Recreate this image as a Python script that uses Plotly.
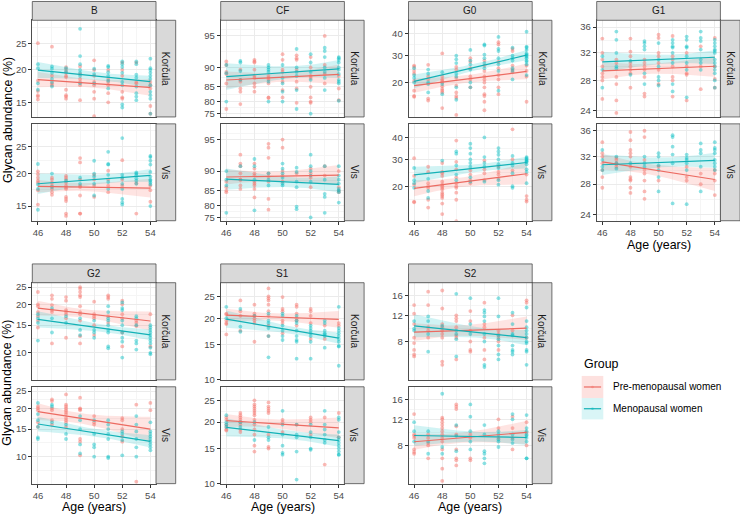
import numpy as np
import plotly.graph_objects as go

# ---------------- data ----------------
AGES = [46, 47, 48, 49, 50, 51, 52, 53, 54]
GLYCANS = ["B", "CF", "G0", "G1", "G2", "S1", "S2"]
ISLANDS = ["Korčula", "Vis"]
GROUPS = ["Pre-menopausal women", "Menopausal women"]
X_TICKS = [46, 48, 50, 52, 54]
Y_TICKS = {"B": [15, 20, 25], "CF": [75, 80, 85, 90, 95], "G0": [20, 30, 40],
           "G1": [24, 28, 32, 36], "G2": [10, 15, 20, 25], "S1": [10, 15, 20, 25],
           "S2": [8, 12, 16]}
Y_LIMITS = {"B": [13.1, 29.9], "CF": [73.5, 96.5], "G0": [11.1, 46.7], "G1": [23.2, 37.1],
            "G2": [6.6, 26.4], "S1": [10.0, 28.5], "S2": [4.3, 19.3]}

# values (%) per age 46..54
B_KOR_PRE = [[25, 18.2, 16.6, 15.8, 15.4, 16.0], [24.3, 19, 17.8, 17.5], [20.5, 20, 19.5, 19, 18.8, 16.8, 16, 15.8, 15.5],
             [20.6, 19.3, 18.5, 18, 17.5, 15.3], [21.7, 20, 19, 18, 17.5, 16.5, 15.5, 13.2], [20, 18.5, 18, 17.5, 16.3, 15],
             [21.3, 20, 19, 16.5, 15.7, 15.5], [21.3, 18, 17.8], [18, 17.5, 17, 14.5, 13.5]]
B_KOR_MENO = [[21, 20.3, 17.8, 16.8], [20.6, 20.2, 19.5, 18.5, 18, 17.3], [20.3, 19.7], [28, 22.5, 21, 20, 19.5, 19, 17.8],
              [20.2, 19.3, 17.8], [20.7, 20.5, 19.6, 19, 18.2, 17], [21.5, 21, 20.5, 19.5, 18, 17.5, 14.7, 14.3],
              [21.5, 21, 19.2, 18.7, 17.3, 16.3, 15.8, 15.3], [22, 20.3, 20, 19.5, 19, 18.5, 17.5, 16.5, 16, 15.5, 13.5]]
B_VIS_PRE = [[20.4, 19.9, 19.3, 18.8, 18.5, 17.3, 15.2], [19.3, 19, 18.5, 18, 17.5, 17, 16.6],
             [19.6, 19.3, 19, 18.5, 18, 17.7, 17.5, 16.3, 16, 15.7, 14, 13.7], [22.8, 22, 19, 18, 17.8, 16.5, 14, 14],
             [19.8, 19, 18, 16.3], [20.5, 19, 18, 17], [22.4, 19, 18], [18.4, 14], [18, 17.3, 15.6]]
B_VIS_MENO = [[21.7, 18.2, 17.5, 14.5], [20, 17.8], [18.8], [19.3, 18.3], [22.3, 20, 19.5, 18.3, 16.5],
              [24, 21.7, 21.6, 19.8, 18.6, 17.5], [26.8, 19.8, 19.3, 18.3, 17.5, 16, 15.5, 15.2],
              [20.2, 20, 19.7, 19.2, 18.8, 18.3], [23.2, 23, 22.3, 21.6, 20.3, 19.5, 19, 18.8, 18.5, 18.2, 15]]

CF_KOR_PRE = [[91.2, 90.5, 89, 88.5, 86, 77], [89.5, 87, 86.5, 84.5, 83.5, 79], [91.5, 91.2, 91, 89.5, 88, 87.5, 86, 85, 83.5],
              [88, 87.5, 87, 86, 81.5, 81.3], [92.5, 91.5, 89.5, 89, 86.5, 84, 81.5], [92.3, 91.8, 91.5, 89.5, 86.5, 84.5, 79.5],
              [96.8, 92, 90, 88, 87.5, 85, 81.5, 80, 79.5], [95, 90.5, 88.5, 86], [88, 84.5, 80.5]]
CF_KOR_MENO = [[90.5, 88.7, 80], [91.3, 91, 89.2, 87], [], [90.5, 90, 89.5, 89, 86.5, 80], [90.5, 87.5, 86, 83.5, 80],
               [97, 93.3, 90, 89, 88, 84, 77], [97.5, 92.5, 91, 89, 87, 75], [93.5, 93, 92, 90, 89, 87.5, 84],
               [92, 91.8, 91.5, 91, 90, 89.5, 88.5, 87, 86.5, 86, 80.3]]
CF_VIS_PRE = [[87.5, 86, 85, 84.5], [93, 91.5, 91, 89.5, 88, 86.5, 85.5, 88], [91.5, 90.5, 89.5, 89, 87.5, 87, 86.5, 85.5, 82.8],
              [94.5, 94, 92.5, 89.5, 88.7, 87.5, 82.3, 78.3], [95, 94, 90, 89, 87.5], [89.5], [90.5, 89.5, 88.5, 86],
              [91, 89], [90, 86, 85, 84.5]]
CF_VIS_MENO = [[90, 88, 86.5, 77], [91], [92.3, 91, 88, 78], [89.5, 88, 86.5], [91.5, 90.5, 89.5, 88.5, 87, 86.5],
               [90.7, 89.8, 87.5, 86, 79.5, 78.5], [93, 91, 90, 89, 87.5, 75], [91, 88, 84, 83, 77],
               [91, 89, 88, 87, 85.5, 85, 84.5, 81]]

G0_KOR_PRE = [[26, 25.5, 24, 23, 20.5, 17.5, 16, 15.8], [26.3, 22, 21, 15.3, 14.8], [31, 22, 21, 20.5, 20, 18.8, 18, 17.5, 17, 13],
              [25.5, 24.5, 21.5, 19, 17, 16, 15.5, 11.5], [29, 27.5, 25, 22, 21, 18.5],
              [28, 26, 24, 22, 21, 20, 18.5, 16.5, 16, 14.5, 12.5], [36, 35, 27.5, 25, 22.5, 21, 18.5, 16.5],
              [33, 32, 26, 24.5, 23.5], [26, 24, 22, 14.5]]
G0_KOR_MENO = [[25, 22.5, 21.5, 20], [24.5, 23, 20, 19.5, 17], [23.5, 19.5, 16.5], [30, 28.5, 27, 23, 22, 18.5, 15],
               [32.5, 28, 26.5, 24.5, 20, 18.5], [35, 34.5, 30.5, 29, 27, 25], [38.5, 33, 32, 29, 26.5, 24, 17.5],
               [33.5, 30, 29, 28, 25, 24, 21], [41, 34, 33.5, 32.5, 31, 30.5, 30, 29.5, 29, 28, 27.5, 26.5, 22.5]]
G0_VIS_PRE = [[30.5, 23.5, 20.5, 15.5, 15.3], [27, 25, 21, 20, 19.5, 16, 14],
              [28.5, 25, 24.5, 23.5, 21.5, 20.5, 20, 19.5, 19, 18, 17.5, 17, 16.5, 15, 12.5],
              [38.5, 29, 26, 23, 21, 20, 19.5, 18, 16, 11, 10], [25.5, 24, 22, 21], [29.5, 26, 24.5, 22],
              [27, 25, 24, 22.5], [44, 30, 25.5], [24, 17, 16, 15.5]]
G0_VIS_MENO = [[26.5, 22, 21, 19.5], [22.5, 18.5, 16.5], [29.5], [33.5, 32.5, 27.5, 24, 22],
               [37, 35, 32.5, 30, 28.5, 27, 23, 21.5], [40, 31, 28.5, 27, 21.5], [35, 33.5, 32, 30, 28, 26.5, 22, 20.5],
               [31.5, 28.5, 27.5, 24.5, 20, 19.5], [31, 30.5, 30, 29.5, 29, 29, 28, 26, 25, 21]]

G1_KOR_PRE = [[34.2, 32, 31, 30, 29, 28.5, 28, 25.5], [31, 30.5, 28.5, 27.5, 25.3, 23.7], [34.2, 32.2, 31.5, 30.5, 30, 29.5, 29, 27],
              [31, 30.5, 30, 29.5, 28.5, 26.2, 25.8], [34.8, 34.3, 32, 31.5, 30.5, 29.5, 27.5], [34.6, 31.5, 31, 30, 28.5, 28, 25.8],
              [32, 30, 29, 28.8, 25.3], [33, 30, 26.8], [34.3, 30, 28.2, 27]]
G1_KOR_MENO = [[31.5, 29.5, 27], [35.3, 34, 32, 30, 29.7], [30.8, 28.8], [33.8, 33.5, 33, 32.5, 29, 27.5],
               [33.5, 31, 30, 28.5, 28, 27.3], [34, 33.5, 33, 32.8, 32, 30.5, 27.5, 26.5], [34.5, 34, 33, 32.8, 31.5, 30.5, 29.5, 25.7],
               [35.3, 34.3, 33.8, 32.5, 31, 30.5, 29.5], [34, 33.5, 33, 32.5, 32.3, 32, 31, 30.5, 30, 29.5, 29, 28, 27]]
G1_VIS_PRE = [[34.2, 32.5, 32, 31, 30, 29, 27.5], [31.8, 31.5, 31, 30.8, 30.5], [35.8, 34.5, 33, 32.5, 32, 30.5, 29, 28.7, 28.5, 27.5, 26.8],
              [36, 35, 31.5, 30, 29.5, 28.5, 27, 26], [30.5, 28.5], [], [30.5, 29, 28.5], [29.5, 28], [30, 29.5, 28.5, 26.5]]
G1_VIS_MENO = [[33, 31.5, 30.5, 30], [32, 30.2, 31], [31], [32, 31, 30.5], [32.5, 32, 30.7, 30, 29, 27],
               [35.3, 35, 33.5, 32.3, 31, 25.4], [32.3, 31.8, 31.5, 31, 30, 25.3], [34, 33, 32.5, 30.5, 27],
               [34.2, 33.3, 33, 32.5, 31.5, 31, 30.5, 30]]

G2_KOR_PRE = [[23.5, 20, 19.5, 18, 17, 16, 14.5], [22.5, 21.5, 19.8, 18.5, 18, 11.5], [22, 21, 18.5, 18, 17.5, 16.5, 12.5],
              [25, 24.5, 23.5, 22.5, 22, 19.5, 18, 17.5, 16, 12.8, 11.5], [20.7, 17.5, 17, 16.5, 15, 13],
              [22.5, 22, 21.5, 17, 15.5], [21, 20, 17.5, 16.5, 13.5, 11], [16, 15.5, 14.8], [17.5, 11]]
G2_KOR_MENO = [[17.5, 16.5, 15.5, 12], [19, 16.5, 13.5], [17, 15.5], [16.5, 14, 13], [16, 14, 13.5, 12.5],
               [19.5, 18, 16.5, 16, 15, 14, 13.5, 11, 10.7], [20.5, 19, 18.5, 16, 15, 13.5, 12.5, 11.8, 9.3],
               [17, 16.5, 15, 12, 11.5, 10.5], [15, 14.5, 14, 13.5, 13, 12.5, 12, 11.5, 10.8, 10, 9.8]]
G2_VIS_PRE = [[20.5, 20, 19.5, 16.5, 15.5], [22.5, 22, 20, 19.5, 17, 16], [24, 21, 20.5, 20, 19.5, 19, 18.5, 17.5, 17, 16.5, 15.5],
              [23, 20, 19.8, 19.5, 13, 12.5, 10.2], [18, 16.5, 16], [], [17.5, 17, 15, 13.5, 12.5], [21, 6.8], [21.5, 19.5]]
G2_VIS_MENO = [[21.5, 18.5, 17, 15.5, 13.3, 13], [21, 20.5, 16.5], [16, 14, 13], [18, 17, 15, 12, 10.5],
               [17, 14, 12, 11.5, 10], [17, 16, 15, 14, 13, 10, 9.8], [14.5, 14, 12.8, 10.2], [18, 16, 14.5, 13, 11.5, 10],
               [16.5, 14.5, 14, 13.5, 13, 12.5, 12, 11.5, 11]]

S1_KOR_PRE = [[21, 20.8, 19.5, 19, 18.8, 16.8], [24, 21.5, 20.5, 17.5], [23, 21, 20.5, 20, 19.5, 19, 15.5],
              [27, 25, 24.5, 24, 23, 21.5, 20.5, 18.5, 16.5], [24.8, 22, 21.5, 19.5, 19, 17], [23, 22.5, 21, 20, 19.5, 18.5],
              [22, 21.5, 20.5, 19, 16], [18.5, 16], [19, 18.5]]
S1_KOR_MENO = [[22.5, 20], [22, 18.3, 17.3], [20.5], [21, 19.5, 19, 18, 16.5, 13], [21, 20.5, 18.5, 17.5, 16.5, 15.8],
               [20.5, 19.5, 19, 17.5, 16.5, 15.8, 15.5, 12.8], [18.5, 18, 17.5, 17, 16.5, 15.5, 12.8],
               [19.5, 19, 17.5, 17, 16.8, 16.5, 14.5], [22.5, 18, 17.5, 17, 16.5, 16, 15.5, 14.8, 14.7, 11.8]]
S1_VIS_PRE = [[21, 20.5, 19.5, 19, 18.5, 18.3], [22, 21.5, 21, 20.5, 20, 19.5, 18.5, 18],
              [25, 24, 23.5, 23, 22.5, 22, 21.5, 20.5, 19.5, 18.5, 17.5, 15.5, 14.5], [24.5, 23.5, 23, 22.5, 22, 17.5, 15.3, 15],
              [20.5, 20, 18], [19.5], [21, 20.5, 20, 17.5], [21, 12.5], [22, 17]]
S1_VIS_MENO = [[21.5, 20, 19.5, 19], [20, 19], [20, 16.5], [19, 17, 16.5], [22.5, 19.5, 17.5, 15.5, 14.3, 14],
               [19.5, 17.5, 17, 14.5, 10.5], [19.5, 18, 17, 15, 14.8], [22.5, 19.5, 18.5, 17.5, 16.5, 16],
               [21, 20.5, 18, 17, 16.5, 16, 15.5, 15, 14.5, 14, 14]]

S2_KOR_PRE = [[14, 12.3, 10.5, 8.5, 7.8, 7, 6.5, 6.3], [17, 14, 10, 9.5, 8.5], [17.3, 13.3, 10.5, 10, 9.5, 9, 8.5, 5.8, 5.5],
              [12, 11.5, 11, 10, 8.8, 8.5, 6], [12.8, 11, 9.5, 8, 7, 6.8], [14.5, 10.5, 10, 8.5, 7, 6], [9.5, 9, 8.5, 8, 7],
              [12, 9.5], [15, 14.5, 8.5]]
S2_KOR_MENO = [[11, 9.8, 9.5], [11.8, 11, 9, 6.8], [10.2], [16.5, 9.5, 9, 8.3, 6.3], [15.5, 10.5, 9],
               [13, 12.5, 11.8, 11, 9, 8, 5.5, 5.3], [15.5, 11.8, 8.8, 8.3, 7.5, 6.5, 6], [12.5, 10.5, 9, 8.8, 7.5, 7, 6.8, 6.5],
               [13.5, 11, 10, 9.5, 9, 8.5, 8, 7.8, 7, 6.8, 5.5]]
S2_VIS_PRE = [[13, 9.5, 9.3, 9, 7.5, 7.2, 7], [9.5, 9, 8.3, 8, 6.5], [12.3, 12, 11.5, 11, 10.5, 10, 9.5, 9, 8.5, 7.5, 6.5, 5.5, 4.5],
              [15, 14.5, 14, 10.8, 9.5, 7.5, 6.5, 6.3, 5.8], [9.5, 9, 6.5, 6.3], [], [12, 10.5, 9], [12.5, 10.5, 9, 7.5],
              [11.5, 9.8, 8]]
S2_VIS_MENO = [[11.5, 10, 8.5], [10, 8.5, 7], [17.5, 7.8, 7], [11, 9.3, 7.3], [15, 12.5, 10, 8.5, 7.5], [11, 9.5, 7.3, 7, 6.5, 6],
               [10, 9.5, 8.8, 8.5, 7.8], [13, 12, 9.5, 8.8, 8.3], [12.8, 10.5, 10, 9.5, 9.3, 9, 8.5, 6.5, 6.5]]

SERIES = {
    ("B", "Korčula"): (B_KOR_PRE, B_KOR_MENO), ("B", "Vis"): (B_VIS_PRE, B_VIS_MENO),
    ("CF", "Korčula"): (CF_KOR_PRE, CF_KOR_MENO), ("CF", "Vis"): (CF_VIS_PRE, CF_VIS_MENO),
    ("G0", "Korčula"): (G0_KOR_PRE, G0_KOR_MENO), ("G0", "Vis"): (G0_VIS_PRE, G0_VIS_MENO),
    ("G1", "Korčula"): (G1_KOR_PRE, G1_KOR_MENO), ("G1", "Vis"): (G1_VIS_PRE, G1_VIS_MENO),
    ("G2", "Korčula"): (G2_KOR_PRE, G2_KOR_MENO), ("G2", "Vis"): (G2_VIS_PRE, G2_VIS_MENO),
    ("S1", "Korčula"): (S1_KOR_PRE, S1_KOR_MENO), ("S1", "Vis"): (S1_VIS_PRE, S1_VIS_MENO),
    ("S2", "Korčula"): (S2_KOR_PRE, S2_KOR_MENO), ("S2", "Vis"): (S2_VIS_PRE, S2_VIS_MENO),
}

# ---------------- style / layout ----------------
W, H = 740, 519
FONT = "Liberation Sans, Arial, sans-serif"
PT_COL = ["rgba(248,118,109,0.5)", "rgba(0,191,196,0.45)"]
LN_COL = ["#EC6B62", "#13B1B6"]
BAND_COL = ["rgba(248,118,109,0.2)", "rgba(0,191,196,0.18)"]
KEY_COL = ["rgba(248,118,109,0.22)", "rgba(0,191,196,0.15)"]

COL_LEFT = [32.3, 220.7, 408.5, 596.7]
PANEL_W = 123.7
STRIP_W = 19.7
ROW_STRIP = [(0.5, 19.5), (266.0, 285.0)]
ROW_PANELS = [[(19.5, 117.3), (124.3, 222.3)], [(285.0, 383.3), (390.3, 488.3)]]
POS = {"B": (0, 0), "CF": (1, 0), "G0": (2, 0), "G1": (3, 0), "G2": (0, 1), "S1": (1, 1), "S2": (2, 1)}


def px(x):
    return x / W


def py(y):
    return 1 - y / H


def lg(v):
    p = np.asarray(v, dtype=float) / 100.0
    return np.log(p / (1 - p))


def minor_breaks(majors, lims):
    b = list(lg(majors))
    bd = b[1] - b[0]
    lo, hi = lg(lims)
    if lo < b[0]:
        b = [b[0] - bd] + b
    if hi > b[-1]:
        b = b + [b[-1] + bd]
    out = [(b[i] + b[i + 1]) / 2 for i in range(len(b) - 1)]
    return [m for m in out if lo <= m <= hi]


def lm_fit(values):
    xs, ys = [], []
    for a, vals in zip(AGES, values):
        for v in vals:
            xs.append(a)
            ys.append(v)
    x = np.array(xs, dtype=float)
    y = lg(ys)
    n = len(x)
    xm = x.mean()
    sxx = ((x - xm) ** 2).sum()
    b1 = ((x - xm) * (y - y.mean())).sum() / sxx
    b0 = y.mean() - b1 * xm
    s = np.sqrt(((y - b0 - b1 * x) ** 2).sum() / (n - 2))
    grid = np.linspace(min(AGES), max(AGES), 80)
    fit = b0 + b1 * grid
    se = s * np.sqrt(1 / n + (grid - xm) ** 2 / sxx)
    df = n - 2
    t = 1.959964 + 2.372 / df + 2.822 / df ** 2
    return x, y, grid, fit, fit - t * se, fit + t * se


fig = go.Figure()
layout = {}
shapes = []
annotations = []

k = 0
for g in GLYCANS:
    col, row = POS[g]
    left = COL_LEFT[col]
    s0, s1 = ROW_STRIP[row]
    shapes.append(dict(type="rect", xref="paper", yref="paper", x0=px(left), x1=px(left + PANEL_W),
                       y0=py(s1), y1=py(s0), fillcolor="#D9D9D9", line=dict(color="#4D4D4D", width=0.8), layer="above"))
    annotations.append(dict(text=g, x=px(left + PANEL_W / 2), y=py((s0 + s1) / 2), xref="paper", yref="paper",
                            showarrow=False, font=dict(size=10, color="#1A1A1A", family=FONT),
                            xanchor="center", yanchor="middle"))
    for ii, isl in enumerate(ISLANDS):
        k += 1
        t0, t1 = ROW_PANELS[row][ii]
        xa = "x" if k == 1 else f"x{k}"
        ya = "y" if k == 1 else f"y{k}"
        shapes.append(dict(type="rect", xref="paper", yref="paper", x0=px(left + PANEL_W), x1=px(left + PANEL_W + STRIP_W),
                           y0=py(t1), y1=py(t0), fillcolor="#D9D9D9", line=dict(color="#4D4D4D", width=0.8), layer="above"))
        annotations.append(dict(text=isl, x=px(left + PANEL_W + STRIP_W / 2), y=py((t0 + t1) / 2), xref="paper",
                                yref="paper", showarrow=False, textangle=90,
                                font=dict(size=10, color="#1A1A1A", family=FONT), xanchor="center", yanchor="middle"))
        is_bottom = ii == 1
        layout["xaxis" if k == 1 else f"xaxis{k}"] = dict(
            domain=[px(left), px(left + PANEL_W)], anchor=ya, range=[45.6, 54.4],
            tickmode="array", tickvals=X_TICKS, ticktext=[str(v) for v in X_TICKS],
            showticklabels=is_bottom, ticks="outside" if is_bottom else "", ticklen=3, tickwidth=0.8, tickcolor="#333333",
            tickfont=dict(size=9.5, color="#4D4D4D", family=FONT),
            showgrid=True, gridcolor="#EBEBEB", gridwidth=0.9, zeroline=False,
            minor=dict(tickmode="array", tickvals=[47, 49, 51, 53], showgrid=True, gridcolor="#F5F5F5", gridwidth=0.6, ticks=""),
            showline=True, mirror=True, linecolor="#4D4D4D", linewidth=0.8, fixedrange=True)
        majors = Y_TICKS[g]
        lims = Y_LIMITS[g]
        layout["yaxis" if k == 1 else f"yaxis{k}"] = dict(
            domain=[py(t1), py(t0)], anchor=xa, range=list(lg(lims)),
            tickmode="array", tickvals=list(lg(majors)), ticktext=[str(v) for v in majors],
            ticks="outside", ticklen=3, tickwidth=0.8, tickcolor="#333333",
            tickfont=dict(size=9.5, color="#4D4D4D", family=FONT),
            showgrid=True, gridcolor="#EBEBEB", gridwidth=0.9, zeroline=False,
            minor=dict(tickmode="array", tickvals=minor_breaks(majors, lims), showgrid=True, gridcolor="#F5F5F5",
                       gridwidth=0.6, ticks=""),
            showline=True, mirror=True, linecolor="#4D4D4D", linewidth=0.8, fixedrange=True)

        fits = [lm_fit(vals) for vals in SERIES[(g, isl)]]
        for gi, (x, y, grid, fit, lo, hi) in enumerate(fits):
            fig.add_trace(go.Scatter(x=np.concatenate([grid, grid[::-1]]), y=np.concatenate([hi, lo[::-1]]),
                                     fill="toself", fillcolor=BAND_COL[gi], line=dict(width=0), mode="lines",
                                     xaxis=xa, yaxis=ya, showlegend=False, hoverinfo="skip"))
        for gi, (x, y, grid, fit, lo, hi) in enumerate(fits):
            fig.add_trace(go.Scatter(x=x, y=y, mode="markers", name=GROUPS[gi],
                                     marker=dict(size=3.8, color=PT_COL[gi], line=dict(width=0)),
                                     xaxis=xa, yaxis=ya, showlegend=False))
        for gi, (x, y, grid, fit, lo, hi) in enumerate(fits):
            fig.add_trace(go.Scatter(x=grid, y=fit, mode="lines", line=dict(color=LN_COL[gi], width=1.2),
                                     xaxis=xa, yaxis=ya, showlegend=False, hoverinfo="skip"))

# axis titles
for yc in [(19.5 + 222.3) / 2, (285.0 + 488.3) / 2]:
    annotations.append(dict(text="Glycan abundance (%)", x=px(7.5), y=py(yc), xref="paper", yref="paper",
                            showarrow=False, textangle=-90, font=dict(size=12.4, color="black", family=FONT),
                            xanchor="center", yanchor="middle"))
for g, ytit in [("G1", 247.0), ("G2", 511.5), ("S1", 511.5), ("S2", 511.5)]:
    col, row = POS[g]
    annotations.append(dict(text="Age (years)", x=px(COL_LEFT[col] + PANEL_W / 2), y=py(ytit), xref="paper",
                            yref="paper", showarrow=False, font=dict(size=12.4, color="black", family=FONT),
                            xanchor="center", yanchor="middle"))

# legend (drawn manually)
annotations.append(dict(text="Group", x=px(581.5), y=py(367.5), xref="paper", yref="paper", showarrow=False,
                        font=dict(size=12.4, color="black", family=FONT), xanchor="left", yanchor="middle"))
KEY_Y = [(379.3, 401.7), (401.7, 423.3)]
for gi, name in enumerate(GROUPS):
    y0, y1 = KEY_Y[gi]
    yc = (y0 + y1) / 2
    shapes.append(dict(type="rect", xref="paper", yref="paper", x0=px(581.7), x1=px(603.3), y0=py(y1), y1=py(y0),
                       fillcolor=KEY_COL[gi], line=dict(width=0)))
    shapes.append(dict(type="line", xref="paper", yref="paper", x0=px(583.9), x1=px(601.1), y0=py(yc), y1=py(yc),
                       line=dict(color=LN_COL[gi], width=1.2)))
    shapes.append(dict(type="circle", xref="paper", yref="paper", x0=px(591.2), x1=px(593.8), y0=py(yc + 1.3),
                       y1=py(yc - 1.3), fillcolor=PT_COL[gi], line=dict(width=0)))
    annotations.append(dict(text=name, x=px(610.5), y=py(yc), xref="paper", yref="paper", showarrow=False,
                            font=dict(size=10, color="black", family=FONT), xanchor="left", yanchor="middle"))

fig.update_layout(
    width=W, height=H, margin=dict(l=0, r=0, t=0, b=0),
    paper_bgcolor="white", plot_bgcolor="white",
    font=dict(family=FONT), showlegend=False,
    shapes=shapes, annotations=annotations, **layout)

fig.write_html("out.html", config={"displayModeBar": False},
               post_script="document.body.style.margin='0px';document.body.style.overflow='hidden';")
